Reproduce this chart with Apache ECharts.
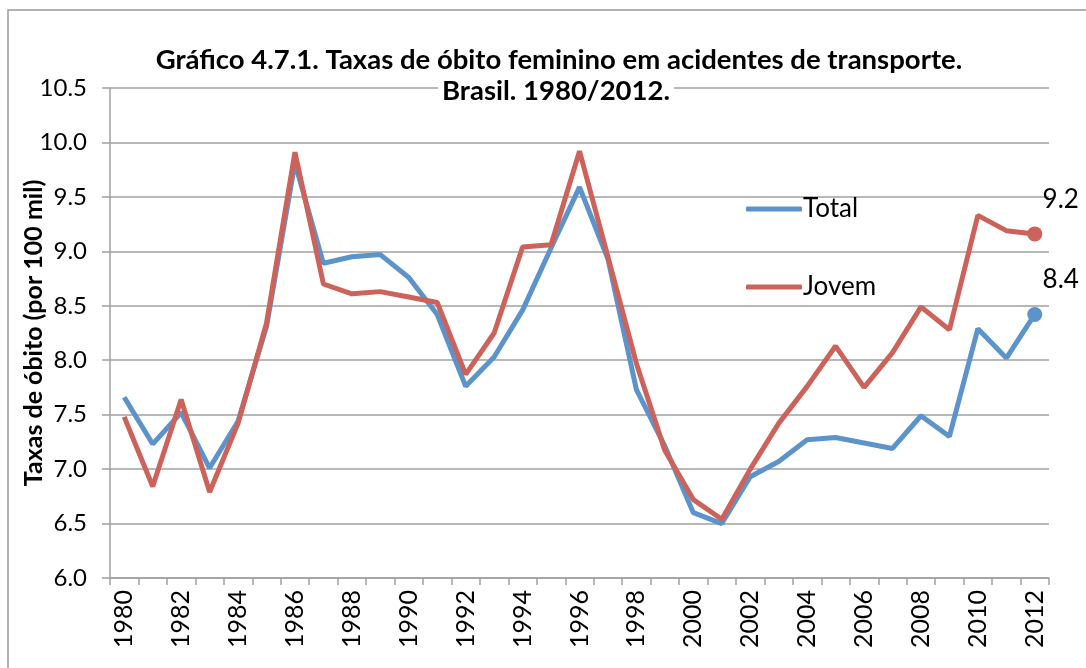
<!DOCTYPE html>
<html>
<head>
<meta charset="utf-8">
<script src="https://cdn.jsdelivr.net/npm/echarts@6/dist/echarts.min.js"></script>
<style>
  html, body { margin: 0; padding: 0; background: #fff; }
  #chart { width: 1086px; height: 668px; }
</style>
</head>
<body>
<div id="chart"></div>
<script>
const years = []
for (let y = 1980; y <= 2012; y++) years.push(String(y))

const total = [
  7.66, 7.23, 7.52, 7.01, 7.44, 8.31, 9.81, 8.89, 8.95, 8.97,
  8.76, 8.42, 7.76, 8.03, 8.46, 9.03, 9.59, 8.93, 7.73, 7.21,
  6.60, 6.50, 6.93, 7.07, 7.27, 7.29, 7.24, 7.19, 7.49, 7.30,
  8.29, 8.02, 8.42
]
const jovem = [
  7.48, 6.84, 7.64, 6.79, 7.42, 8.34, 9.91, 8.70, 8.61, 8.63,
  8.58, 8.53, 7.87, 8.25, 9.04, 9.06, 9.92, 8.95, 7.97, 7.17,
  6.72, 6.54, 7.00, 7.42, 7.76, 8.13, 7.75, 8.07, 8.49, 8.28,
  9.33, 9.19, 9.16
]

const FONT = 'Lato'
const GRID_GRAY = '#a0a0a0'

// only the last point of each series gets a marker and a label
function withEndPoint(values) {
  return values.map((v, i) => i === values.length - 1
    ? { value: v, symbol: 'circle', symbolSize: 15, label: { show: true } }
    : v)
}

const chart = echarts.init(document.getElementById('chart'))

chart.setOption({
  animation: false,
  textStyle: { fontFamily: FONT },
  title: [
    {
      text: 'Gráfico 4.7.1. Taxas de óbito feminino em acidentes de transporte.',
      left: 554, top: 41, textAlign: 'center',
      textStyle: { fontFamily: FONT, fontSize: 27.5, fontWeight: 'bold', color: '#000' }
    },
    {
      text: 'Brasil. 1980/2012.',
      left: 552, top: 77, textAlign: 'center',
      padding: [0, 4],
      backgroundColor: '#fff',
      textStyle: { fontFamily: FONT, fontSize: 27.5, fontWeight: 'bold', color: '#000' }
    }
  ],
  graphic: [{
    type: 'rect',
    shape: { x: 8, y: 10, width: 1120, height: 720 },
    style: { fill: 'none', stroke: '#999', lineWidth: 1.5 },
    z: -1
  }],
  legend: {
    orient: 'vertical',
    left: 741,
    top: 191,
    icon: 'roundRect',
    itemWidth: 56,
    itemHeight: 5,
    itemGap: 52,
    textStyle: { fontFamily: FONT, fontSize: 26, color: '#000', padding: [0, 0, 0, -4] },
    data: ['Total', 'Jovem']
  },
  grid: { left: 110, right: 37, top: 88, bottom: 90, containLabel: false },
  xAxis: {
    type: 'category',
    data: years,
    boundaryGap: true,
    axisLine: { lineStyle: { color: GRID_GRAY, width: 1.5 } },
    axisTick: { show: true, interval: 0, length: 7, lineStyle: { color: GRID_GRAY, width: 1.5 } },
    axisLabel: { interval: 1, rotate: 90, margin: 12, fontFamily: FONT, fontSize: 25, color: '#000' },
    splitLine: { show: false }
  },
  yAxis: {
    type: 'value',
    min: 6,
    max: 10.5,
    interval: 0.5,
    name: 'Taxas de óbito (por 100 mil)',
    nameLocation: 'middle',
    nameGap: 64,
    nameMoveOverlap: false,
    nameTextStyle: { fontFamily: FONT, fontSize: 25, fontWeight: 'bold', color: '#000' },
    axisLine: { show: true, lineStyle: { color: GRID_GRAY, width: 1.5 } },
    axisTick: { show: true, length: 8, lineStyle: { color: GRID_GRAY, width: 1.5 } },
    axisLabel: {
      margin: 23, fontFamily: FONT, fontSize: 24, color: '#000',
      formatter: v => v.toFixed(1)
    },
    splitLine: { show: true, lineStyle: { color: GRID_GRAY, width: 1.5 } }
  },
  series: [
    {
      name: 'Total',
      type: 'line',
      data: withEndPoint(total),
      symbol: 'none',
      lineStyle: { color: '#5b93ca', width: 5 },
      itemStyle: { color: '#5b93ca' },
      label: {
        show: false, position: 'top', distance: 14, offset: [26, 0],
        fontFamily: FONT, fontSize: 26, color: '#000',
        formatter: p => Number(p.value).toFixed(1)
      },
      z: 2
    },
    {
      name: 'Jovem',
      type: 'line',
      data: withEndPoint(jovem),
      symbol: 'none',
      lineStyle: { color: '#cc625a', width: 5 },
      itemStyle: { color: '#cc625a' },
      label: {
        show: false, position: 'top', distance: 14, offset: [26, 0],
        fontFamily: FONT, fontSize: 26, color: '#000',
        formatter: p => Number(p.value).toFixed(1)
      },
      z: 3
    }
  ]
})
</script>
</body>
</html>
